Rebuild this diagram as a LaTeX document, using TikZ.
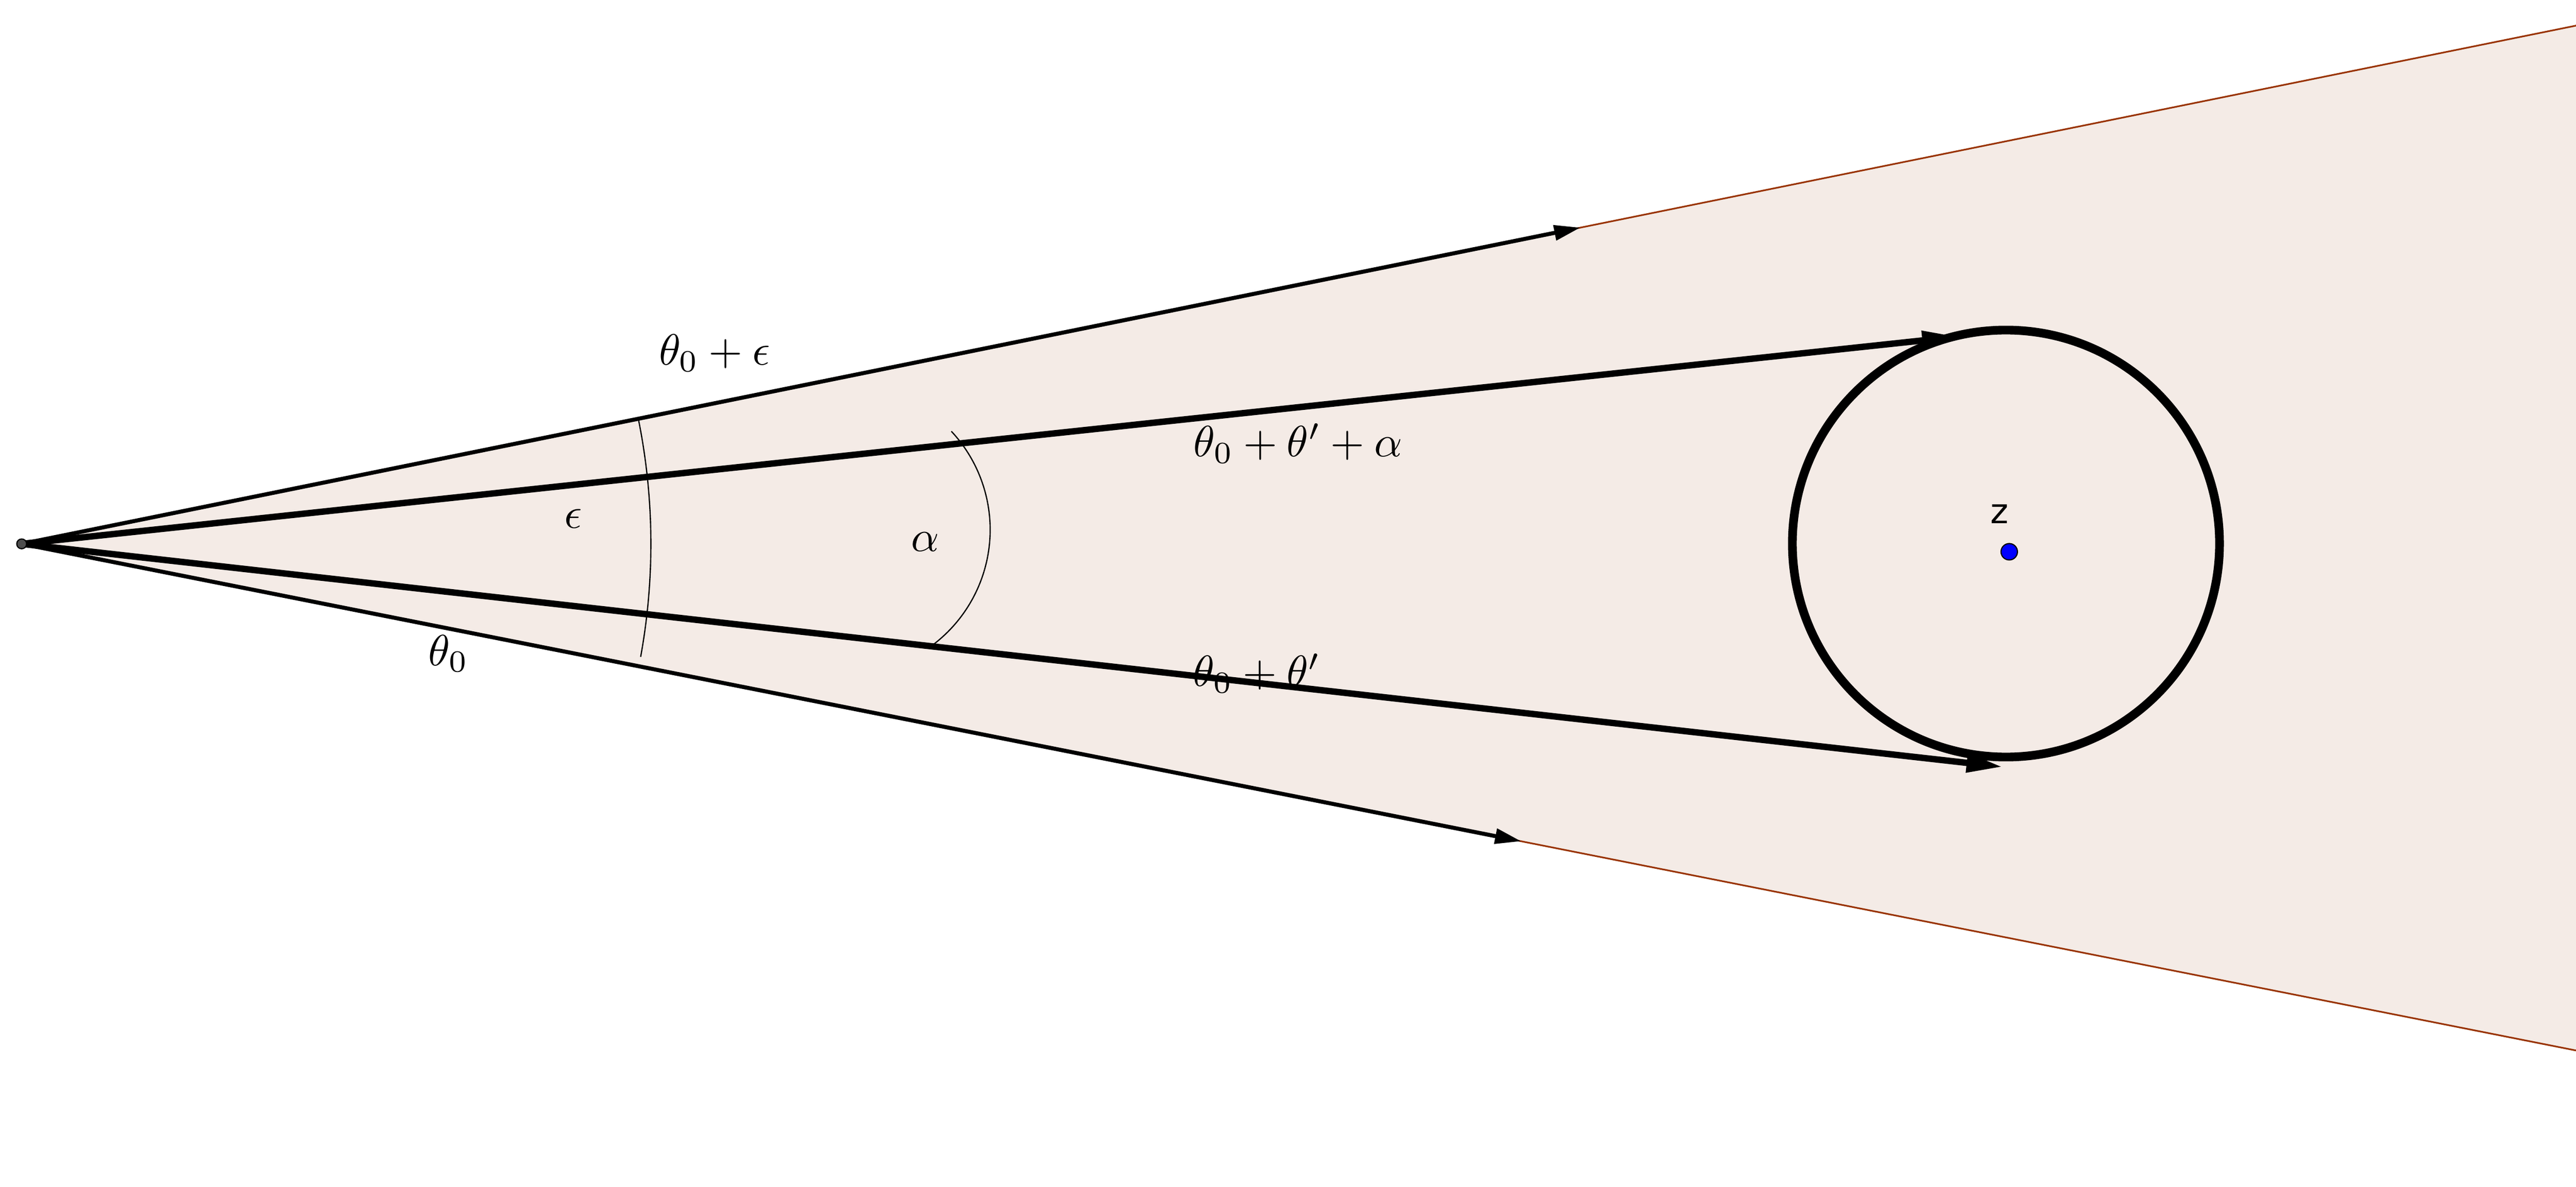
\documentclass[tikz,border=0pt]{standalone}
\usepackage{graphicx}
\usepackage{fontspec}
\newfontfamily\zfont{DejaVu Sans}
\usetikzlibrary{arrows.meta}
\definecolor{wedgefill}{RGB}{244,235,230}
\definecolor{wedgeline}{RGB}{153,51,0}
\definecolor{ptgray}{RGB}{77,77,77}
\newcommand{\biglbl}[1]{\scalebox{2.66}{$#1$}}
\begin{document}
\begin{tikzpicture}[x=1pt,y=-1pt,
  lbl/.style={inner sep=0pt},
  outerray/.style={line width=2.45pt, -{Triangle[length=16pt,width=9pt]}},
  innerray/.style={line width=3.9pt, -{Triangle[length=22pt,width=11pt]}},
  wedgeedge/.style={line width=1pt, draw=wedgeline},
  angarc/.style={line width=0.75pt},
  ptstyle/.style={circle, draw=black, line width=0.7pt, inner sep=0pt}]
\useasboundingbox (0,0) rectangle (1568,722.7);
\coordinate (A) at (13.2,331.2);
\coordinate (UE) at (1568,15.6);
\coordinate (LE) at (1568,639.7);
\fill[wedgefill] (A) -- (UE) -- (LE) -- cycle;
\draw[wedgeedge] (A) -- (UE);
\draw[wedgeedge] (A) -- (LE);
\coordinate (UT) at (962,138.6);
\coordinate (LT) at (926,512.3);
\coordinate (MU) at (1192,205);
\coordinate (ML) at (1219,467);
\draw[outerray] (A) -- (UT);
\draw[outerray] (A) -- (LT);
\node[draw, circle, line width=5.3pt, minimum size=260pt, inner sep=0pt] (circ) at (1221,331) {};
\draw[innerray] (A) -- (MU);
\draw[innerray] (A) -- (ML);
% angle arcs
\draw[angarc] (A) ++(-11.5:383) arc[start angle=-11.5, end angle=10.35, radius=383];
\coordinate (aC) at (514.8,322.6);
\draw[angarc] (aC) ++(-43:87.9) arc[start angle=-43, end angle=53, radius=87.9];
% labels
\node[lbl] (lte) at (435,215) {\biglbl{\theta_0+\epsilon}};
\node[lbl] (lta) at (790,270) {\biglbl{\theta_0+\theta'+\alpha}};
\node[lbl] (ltp) at (765,410) {\biglbl{\theta_0+\theta'}};
\node[lbl] (lt0) at (273,398) {\biglbl{\theta_0}};
\node[lbl] (leps) at (349,316) {\biglbl{\epsilon}};
\node[lbl] (lal) at (563,330) {\biglbl{\alpha}};
\node[inner sep=0pt, font=\zfont\fontsize{21}{25}\selectfont] (lz) at (1217,313) {z};
% points
\node[ptstyle, fill=blue, minimum size=10pt] (z) at (1223,336) {};
\node[ptstyle, fill=ptgray, minimum size=6pt] (Apt) at (A) {};
\end{tikzpicture}
\end{document}
